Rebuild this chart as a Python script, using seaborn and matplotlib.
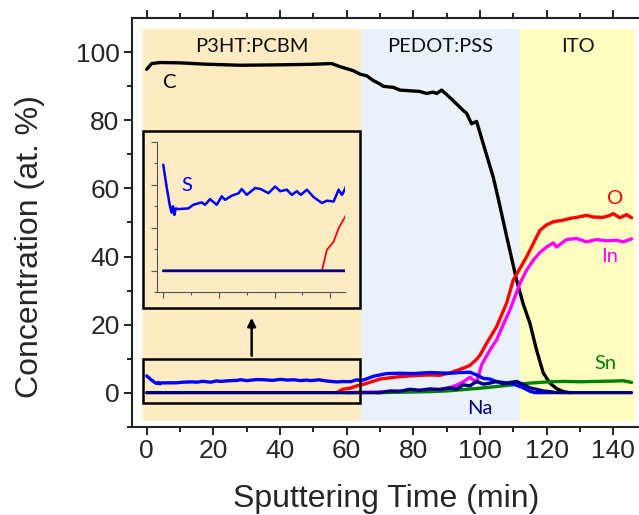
import matplotlib
matplotlib.use("Agg")
from matplotlib import pyplot as plt
from matplotlib.patches import Rectangle
import seaborn as sns

# Depth profile data (sputtering time in min, concentration in at. %)
c_time = [0, 1.5, 4, 10, 18, 28, 38, 45, 50, 55.5, 58, 62, 64, 66, 68, 70, 71, 74, 76,
          82, 84, 86, 87, 88.5, 90, 92.5, 95, 96, 97.5, 99, 101, 104, 105.5, 108, 111,
          113, 115, 117, 119, 121, 123, 125, 127]
c_conc = [95.0, 96.7, 97.0, 96.9, 96.5, 96.2, 96.3, 96.4, 96.5, 96.7, 95.8, 94.6, 93.6,
          93.1, 91.7, 90.7, 90.0, 89.7, 88.9, 88.5, 87.9, 88.3, 87.9, 88.9, 87.6, 85.3,
          82.9, 82.1, 79.0, 79.7, 73.1, 63.3, 57.0, 46.0, 33.1, 26.0, 20.4, 12.5, 5.8,
          2.8, 1.2, 0.3, 0.0]

o_time = [57, 58.8, 61.2, 63, 65.3, 70, 75, 80, 85, 88, 91, 93, 95, 97, 99, 100, 102,
          105, 108, 110, 114, 116, 118, 120, 122, 125, 127, 129, 132, 134, 137, 139, 140,
          142, 144, 145.5]
o_conc = [0.0, 0.98, 1.35, 1.98, 2.5, 4.0, 4.6, 5.0, 5.2, 5.1, 5.8, 6.5, 7.2, 8.0, 9.8,
          11.0, 14.5, 19.4, 26.3, 33.1, 39.9, 43.8, 47.7, 49.3, 50.2, 50.7, 51.2, 51.5,
          52.1, 51.6, 51.5, 52.1, 52.6, 51.4, 52.3, 51.4]

in_time = [60, 70, 80, 85, 88, 91, 93, 95, 97, 99, 100.5, 103, 105, 107, 109, 112, 114,
           116, 118, 120, 122, 123, 126, 129, 132, 135, 138, 141, 143, 145.5]
in_conc = [0.0, 0.2, 0.5, 0.8, 1.0, 1.5, 2.2, 3.2, 4.5, 3.0, 8.2, 12.5, 15.5, 20.0, 24.3,
           32.1, 36.0, 38.9, 41.2, 42.8, 44.0, 42.8, 45.0, 45.3, 44.3, 45.0, 44.6, 44.8,
           44.3, 45.2]

sn_time = [69, 75, 80, 85, 90, 95, 100, 105, 108, 111, 115, 118, 121, 125, 130, 135, 140,
           143, 145.5]
sn_conc = [0.0, 0.1, 0.2, 0.3, 0.5, 0.9, 1.3, 1.8, 2.1, 2.4, 2.8, 3.0, 3.2, 3.3, 3.2, 3.3,
           3.4, 3.5, 3.0]

s_time = [0, 1.2, 2.4, 3, 3.5, 4, 4.5, 5.4, 9, 10.8, 13.8, 15, 16.8, 19.2, 21, 22.2, 24.6,
          27, 28.2, 30, 33, 35, 37.8, 40.2, 42, 44.4, 46.2, 48, 49.4, 51.6, 54, 57, 58.8,
          61.2, 63, 64.2, 65.3, 68, 72, 76, 80, 85, 88, 91, 94, 97, 99, 101, 103, 105, 107,
          110, 113, 115, 116.5, 120, 122]
s_conc = [4.93, 3.9, 3.0, 2.7, 3.0, 2.6, 2.9, 2.87, 2.9, 3.07, 3.18, 3.07, 3.33, 3.07,
          3.46, 3.3, 3.49, 3.6, 3.8, 3.53, 3.85, 3.8, 3.61, 3.92, 3.7, 3.77, 3.53, 3.7, 3.53,
          3.77, 3.43, 3.15, 3.26, 3.22, 3.77, 3.53, 3.8, 4.8, 5.6, 5.7, 5.6, 5.9, 5.8, 5.7,
          5.9, 6.0, 5.2, 4.2, 4.0, 3.2, 3.0, 2.6, 1.4, 0.4, 0.0, 0.0, 0.0]

na_time = [0, 20, 40, 60, 70, 73, 76, 79, 82, 85, 88, 91, 93, 95, 97, 99, 101, 103, 105,
           107, 109, 111, 113, 115, 117, 119, 121, 123, 130, 140, 145.5]
na_conc = [0, 0, 0, 0, 0, 0.5, 0.4, 1.0, 0.7, 1.1, 0.9, 1.4, 1.0, 2.3, 2.0, 3.3, 2.5, 2.8,
           3.3, 2.6, 3.0, 3.3, 2.4, 1.4, 1.0, 0.5, 0.3, 0, 0, 0, 0]

# Layers of the device stack
layer_names = ["P3HT:PCBM", "PEDOT:PSS", "ITO"]
layer_edges = [-1, 64.3, 112, 146.6]
layer_colors = ["#FCEBC3", "#EBF1F8", "#FFFFC2"]

sns.set_theme(style="ticks")
plt.rcParams["font.family"] = ["Liberation Sans", "DejaVu Sans"]
label_font = ["Lato", "DejaVu Sans"]

fig = plt.figure(figsize=(6.39, 5.15), dpi=100)
ax = fig.add_axes([0.2066, 0.1715, 0.80, 0.793])

# Coloured layer backgrounds
for name, x0, x1, col in zip(layer_names, layer_edges[:-1], layer_edges[1:], layer_colors):
    ax.add_patch(Rectangle((x0, -8.4), x1 - x0, 115.3, facecolor=col, edgecolor="none", zorder=0))
    ax.text((x0 + x1) / 2, 101.7, name, ha="center", va="center", fontsize=14.5,
            family=label_font, color="#111111")

lw = 2.4
sns.lineplot(x=c_time, y=c_conc, color="black", lw=lw, ax=ax, sort=False, estimator=None)
sns.lineplot(x=o_time, y=o_conc, color="#FF0000", lw=lw, ax=ax, sort=False, estimator=None)
sns.lineplot(x=in_time, y=in_conc, color="#FF00FF", lw=lw, ax=ax, sort=False, estimator=None)
sns.lineplot(x=sn_time, y=sn_conc, color="#008000", lw=lw, ax=ax, sort=False, estimator=None)
sns.lineplot(x=s_time, y=s_conc, color="#0000FF", lw=lw, ax=ax, sort=False, estimator=None)
sns.lineplot(x=na_time, y=na_conc, color="#000080", lw=lw, ax=ax, sort=False, estimator=None)

# Element labels
el_size = 14.5
ax.text(7, 91, "C", color="black", fontsize=el_size, family=label_font, ha="center", va="center")
ax.text(140.5, 57, "O", color="#FF0000", fontsize=el_size, family=label_font, ha="center", va="center")
ax.text(139, 40, "In", color="#FF00FF", fontsize=el_size, family=label_font, ha="center", va="center")
ax.text(137.8, 8.5, "Sn", color="#008000", fontsize=el_size, family=label_font, ha="center", va="center")
ax.text(100, -4.8, "Na", color="#000080", fontsize=el_size, family=label_font, ha="center", va="center")

# Zoom boxes and arrow
ax.add_patch(Rectangle((-1.2, -3.0), 65.2, 13.0, fill=False, edgecolor="black", lw=1.8, zorder=5))
ax.add_patch(Rectangle((-1.2, 24.9), 65.2, 52.1, fill=False, edgecolor="black", lw=1.8, zorder=5))
ax.annotate("", xy=(31.5, 22.8), xytext=(31.5, 10.0),
            arrowprops=dict(arrowstyle="-|>", color="black", lw=1.8, mutation_scale=12))

ax.set_xlim(-4.4, 149)
ax.set_ylim(-10, 110)
ax.set_xticks(range(0, 141, 20))
ax.set_xticks(range(10, 141, 20), minor=True)
ax.set_yticks(range(0, 101, 20))
ax.set_yticks(range(-10, 101, 20), minor=True)
ax.tick_params(which="both", direction="out", width=1.4, top=True, labelsize=19, color="#222222")
ax.tick_params(which="major", length=6, pad=3)
ax.tick_params(which="minor", length=3.5)
for side in ["left", "bottom", "top", "right"]:
    ax.spines[side].set_linewidth(1.5)
    ax.spines[side].set_color("#222222")

ax.set_xlabel("Sputtering Time (min)", fontsize=23)
ax.set_ylabel("Concentration (at. %)", fontsize=23)
ax.xaxis.set_label_coords(0.497, -0.176)
ax.xaxis.label.set_va("center")
ax.yaxis.set_label_coords(-0.1995, 0.4407)
ax.yaxis.label.set_va("center")

# Inset: zoom into the first 65 minutes near zero
ins = fig.add_axes([0.2452, 0.4324, 0.2947, 0.2924])
ins.patch.set_alpha(0)
sns.lineplot(x=s_time, y=s_conc, color="#0000FF", lw=1.8, ax=ins, sort=False, estimator=None)
sns.lineplot(x=o_time, y=o_conc, color="#FF0000", lw=1.3, ax=ins, sort=False, estimator=None)
sns.lineplot(x=na_time, y=na_conc, color="#000080", lw=2.0, ax=ins, sort=False, estimator=None)
ins.text(8.4, 3.95, "S", color="#0000FF", fontsize=el_size, family=label_font, ha="center", va="center")
ins.set_xlim(-2.37, 65.3)
ins.set_ylim(-1, 6)
ins.set_xticks(range(0, 61, 20))
ins.set_xticks(range(10, 61, 20), minor=True)
ins.set_yticks(range(0, 7, 2))
ins.set_yticks(range(-1, 7, 2), minor=True)
ins.tick_params(which="both", direction="out", labelleft=False, labelbottom=False,
                color="#555555", width=0.8)
ins.tick_params(which="major", length=4)
ins.tick_params(which="minor", length=2.5)
ins.set_xlabel("")
ins.set_ylabel("")
for side in ["top", "right"]:
    ins.spines[side].set_visible(False)
for side in ["left", "bottom"]:
    ins.spines[side].set_linewidth(0.8)
    ins.spines[side].set_color("#555555")

fig.savefig("out.png", dpi=100)
